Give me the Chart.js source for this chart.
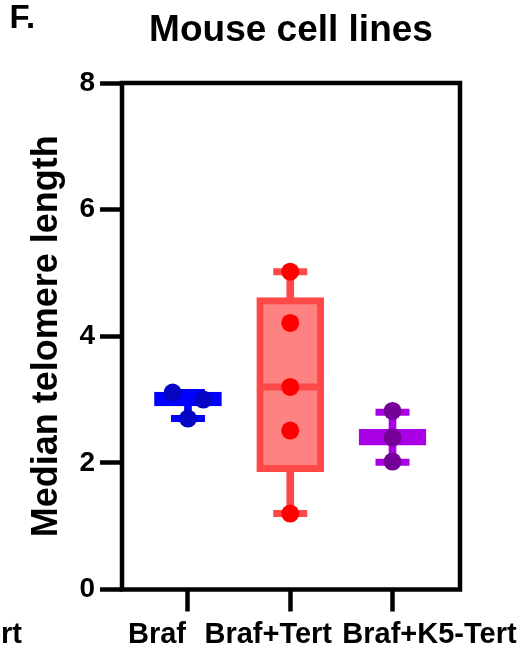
<!DOCTYPE html>
<html>
<head>
<meta charset="utf-8">
<script src="https://cdn.jsdelivr.net/npm/chart.js@4.4.0/dist/chart.umd.min.js"></script>
<style>
  html, body { margin: 0; padding: 0; background: #fff; }
  #wrap { width: 525px; height: 650px; }
</style>
</head>
<body>
<div id="wrap"><canvas id="myChart" width="525" height="650"></canvas></div>
<script>
// values
var groups = ['Braf', 'Braf+Tert', 'Braf+K5-Tert'];
var brafValues = [3.11, 3.00, 2.70];
var brafTertValues = [5.02, 4.21, 3.20, 2.51, 1.20];
var brafK5TertValues = [2.82, 2.40, 2.02];
var boxBottom = [2.90, 1.86, 2.28];
var boxTop = [3.12, 4.61, 2.53];
var medians = [3.00, 3.20, 2.40];
var whiskerLow = [2.70, 1.20, 2.01];
var whiskerHigh = [3.11, 5.02, 2.80];
var yTicks = [0, 2, 4, 6, 8];

// styling
var boxColors = ['#0000ff', '#ff4848', '#a900e6'];
var boxFills = ['#0000ff', '#ff8282', '#a900e6'];
var dotColors = ['#0505c4', '#ff0000', '#740096'];
var labelShift = [-31, -22, 37];
var FONT = "'Liberation Sans', Arial, sans-serif";

// spread points that would overlap, like the prism scatter
function spreadPoints(values, idx) {
    var side = -1;
    return values.map(function(v, i) {
        var close = values.some(function(w, j) { return j != i && Math.abs(w - v) < 0.2; });
        var dx = 0;
        if (close) { dx = side * 0.15; side = -side; }
        return { x: idx + dx, y: v };
    });
}

var capData = [], capColors = [];
groups.forEach(function(g, i) {
    capData.push({ x: i, y: whiskerLow[i] });
    capData.push({ x: i, y: whiskerHigh[i] });
    capColors.push(boxColors[i], boxColors[i]);
});

var panelExtras = {
    id: 'panelExtras',
    afterDraw: function(chart) {
        var ctx = chart.ctx;
        var area = chart.chartArea;
        var xs = chart.scales.x;
        ctx.save();
        ctx.strokeStyle = '#000';
        ctx.lineWidth = 4.5;
        ctx.strokeRect(area.left, area.top, area.right - area.left, area.bottom - area.top);

        ctx.fillStyle = '#000';
        ctx.textBaseline = 'alphabetic';
        ctx.font = 'bold 33px ' + FONT;
        ctx.textAlign = 'left';
        ctx.fillText('F.', 9.5, 28);

        ctx.font = 'bold 29px ' + FONT;
        ctx.textAlign = 'center';
        groups.forEach(function(g, i) {
            ctx.fillText(g, xs.getPixelForValue(i) + labelShift[i], 643);
        });
        // label of the neighbouring panel, cut by the crop
        ctx.textAlign = 'right';
        ctx.fillText('Braf+K5-Tert', 22, 643);
        ctx.restore();
    }
};

const ctx = document.getElementById('myChart');
chart = new Chart(ctx, {
    type: 'scatter',
    data: {
        datasets: [{
            type: 'bar',
            data: groups.map(function(g, i) { return { x: i, y: [whiskerLow[i], whiskerHigh[i]] }; }),
            backgroundColor: boxColors,
            barThickness: 7,
            grouped: false,
            order: 5
        }, {
            type: 'scatter',
            data: capData,
            pointStyle: 'line',
            pointRadius: 17,
            pointBorderWidth: 7,
            pointBorderColor: capColors,
            order: 4
        }, {
            type: 'bar',
            data: groups.map(function(g, i) { return { x: i, y: [boxBottom[i], boxTop[i]] }; }),
            backgroundColor: boxFills,
            borderColor: boxColors,
            borderWidth: 7,
            borderSkipped: false,
            barThickness: 67,
            grouped: false,
            order: 3
        }, {
            type: 'scatter',
            data: medians.map(function(m, i) { return { x: i, y: m }; }),
            pointStyle: 'line',
            pointRadius: 30,
            pointBorderWidth: 7,
            pointBorderColor: boxColors,
            order: 2
        }, {
            data: spreadPoints(brafValues, 0),
            pointRadius: 9,
            pointBackgroundColor: dotColors[0],
            pointBorderWidth: 0,
            order: 0
        }, {
            data: spreadPoints(brafTertValues, 1),
            pointRadius: 9,
            pointBackgroundColor: dotColors[1],
            pointBorderWidth: 0,
            order: 0
        }, {
            data: spreadPoints(brafK5TertValues, 2),
            pointRadius: 9,
            pointBackgroundColor: dotColors[2],
            pointBorderWidth: 0,
            order: 0
        }]
    },
    options: {
        responsive: false,
        animation: false,
        layout: { padding: { top: 0, right: 65, bottom: 0, left: 0 } },
        plugins: {
            legend: { display: false },
            tooltip: { enabled: false },
            title: {
                display: true,
                text: 'Mouse cell lines',
                color: '#000',
                fullSize: false,
                font: { family: FONT, size: 37, weight: 'bold', lineHeight: 1.2 },
                padding: { top: 9, bottom: 29.6 }
            }
        },
        scales: {
            x: {
                type: 'linear',
                min: -0.645,
                max: 2.66,
                offset: false,
                afterBuildTicks: function(s) { s.ticks = groups.map(function(g, i) { return { value: i }; }); },
                ticks: { display: false },
                grid: { offset: false, drawOnChartArea: false, drawTicks: true, tickLength: 22, tickWidth: 4.5, tickColor: '#000' },
                border: { display: false },
                afterFit: function(s) { s.height = 60.5; }
            },
            y: {
                min: 0,
                max: 8,
                afterBuildTicks: function(s) { s.ticks = yTicks.map(function(v) { return { value: v }; }); },
                ticks: { color: '#000', padding: 5, font: { family: FONT, size: 28, weight: 'bold' } },
                grid: { drawOnChartArea: false, drawTicks: true, tickLength: 22, tickWidth: 4.5, tickColor: '#000' },
                border: { display: false },
                title: {
                    display: true,
                    text: 'Median telomere length',
                    color: '#000',
                    font: { family: FONT, size: 36, weight: 'bold' },
                    padding: { top: 25, bottom: 0 }
                },
                afterFit: function(s) { s.width = 122; }
            }
        }
    },
    plugins: [panelExtras]
});
</script>
</body>
</html>
